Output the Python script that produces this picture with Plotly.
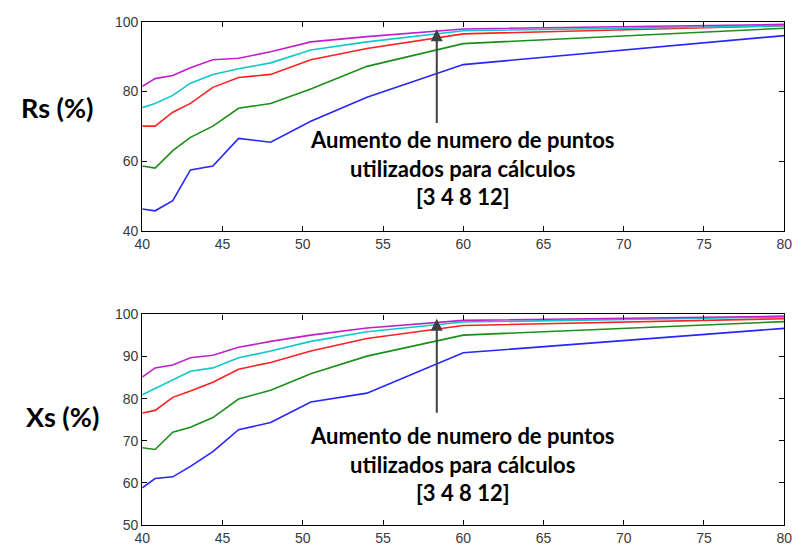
import plotly.graph_objects as go

x_vals = [40, 40.8, 41.9, 43, 44.4, 46, 48, 50.5, 54, 60, 80]

rs_blue = [46.4, 45.9, 48.8, 57.6, 58.7, 66.6, 65.5, 71.5, 78.4, 87.7, 96.0]
rs_green = [58.7, 58.1, 63.1, 66.9, 70.1, 75.2, 76.6, 80.7, 87.2, 93.7, 98.1]
rs_red = [70.1, 70.1, 74.1, 76.6, 81.2, 84.0, 84.9, 89.1, 92.3, 96.5, 98.8]
rs_cyan = [75.4, 76.6, 78.9, 82.4, 84.9, 86.5, 88.2, 91.9, 94.2, 97.4, 98.8]
rs_magenta = [81.5, 83.7, 84.6, 86.8, 89.1, 89.5, 91.4, 94.2, 95.7, 97.9, 99.2]

xs_blue = [58.8, 61.0, 61.4, 63.9, 67.4, 72.6, 74.3, 79.2, 81.3, 90.9, 96.7]
xs_green = [68.3, 67.9, 72.0, 73.2, 75.5, 79.9, 82.0, 85.9, 90.1, 95.1, 98.3]
xs_red = [76.6, 77.2, 80.3, 81.8, 83.9, 87.0, 88.6, 91.3, 94.3, 97.4, 99.0]
xs_cyan = [80.9, 82.4, 84.3, 86.5, 87.3, 89.7, 91.3, 93.6, 95.9, 98.2, 99.4]
xs_magenta = [85.1, 87.3, 88.0, 89.7, 90.3, 92.2, 93.6, 95.1, 96.8, 98.6, 99.6]

x_ticks = [40, 45, 50, 55, 60, 65, 70, 75, 80]
rs_ticks = [40, 60, 80, 100]
xs_ticks = [50, 60, 70, 80, 90, 100]

colors = ["#2626ff", "#1a8f1a", "#ff2020", "#10c8c8", "#c020c8"]

annot_lines = ["Aumento de numero de puntos", "utilizados para cálculos", "[3 4 8 12]"]

fig = go.Figure()

for ys, c in zip([rs_blue, rs_green, rs_red, rs_cyan, rs_magenta], colors):
    fig.add_trace(go.Scatter(x=x_vals, y=ys, mode="lines", line=dict(color=c, width=1.6),
                             xaxis="x", yaxis="y", showlegend=False))
for ys, c in zip([xs_blue, xs_green, xs_red, xs_cyan, xs_magenta], colors):
    fig.add_trace(go.Scatter(x=x_vals, y=ys, mode="lines", line=dict(color=c, width=1.6),
                             xaxis="x2", yaxis="y2", showlegend=False))

W, H = 804, 560
xdom = [137 / W, 792 / W]
axis_common = dict(showline=True, linecolor="black", linewidth=1.2, mirror="ticks",
                   ticks="inside", ticklen=5, tickcolor="black", showgrid=False,
                   zeroline=False, tickfont=dict(family="Liberation Sans", size=14, color="#3a3a3a"))

fig.update_layout(
    width=W, height=H,
    margin=dict(l=0, r=0, t=0, b=0),
    paper_bgcolor="white", plot_bgcolor="white",
    xaxis=dict(domain=xdom, range=[40, 80], tickvals=x_ticks, anchor="y", **axis_common),
    yaxis=dict(domain=[1 - 230 / H, 1 - 14 / H], range=[40, 100], tickvals=rs_ticks,
               anchor="x", **axis_common),
    xaxis2=dict(domain=xdom, range=[40, 80], tickvals=x_ticks, anchor="y2", **axis_common),
    yaxis2=dict(domain=[1 - 532 / H, 1 - 315.5 / H], range=[50, 100], tickvals=xs_ticks,
                anchor="x2", **axis_common),
)

text_font = dict(family="Lato", size=22, color="black")
annot_text = "<br>".join("<b>" + s + "</b>" for s in annot_lines)
# arrows
fig.add_annotation(x=58.35, y=97.8, ax=58.35, ay=70.6, xref="x", yref="y", axref="x", ayref="y",
                   showarrow=True, arrowhead=2, arrowsize=1.2, arrowwidth=2, arrowcolor="#404040", text="")
fig.add_annotation(x=58.35, y=99.0, ax=58.35, ay=76.3, xref="x2", yref="y2", axref="x2", ayref="y2",
                   showarrow=True, arrowhead=2, arrowsize=1.2, arrowwidth=2, arrowcolor="#404040", text="")
# texts
fig.add_annotation(x=464 / W, y=1 - 165 / H, xref="paper", yref="paper", showarrow=False,
                   text=annot_text, font=text_font, align="center", xanchor="center", yanchor="middle")
fig.add_annotation(x=464 / W, y=1 - 469 / H, xref="paper", yref="paper", showarrow=False,
                   text=annot_text, font=text_font, align="center", xanchor="center", yanchor="middle")
fig.add_annotation(x=50 / W, y=1 - 102 / H, xref="paper", yref="paper", showarrow=False,
                   text="<b>Rs (%)</b>", font=dict(family="Lato", size=27, color="black"),
                   xanchor="center", yanchor="middle")
fig.add_annotation(x=56 / W, y=1 - 421 / H, xref="paper", yref="paper", showarrow=False,
                   text="<b>Xs (%)</b>", font=dict(family="Lato", size=27, color="black"),
                   xanchor="center", yanchor="middle")

fig.write_html("out.html")
